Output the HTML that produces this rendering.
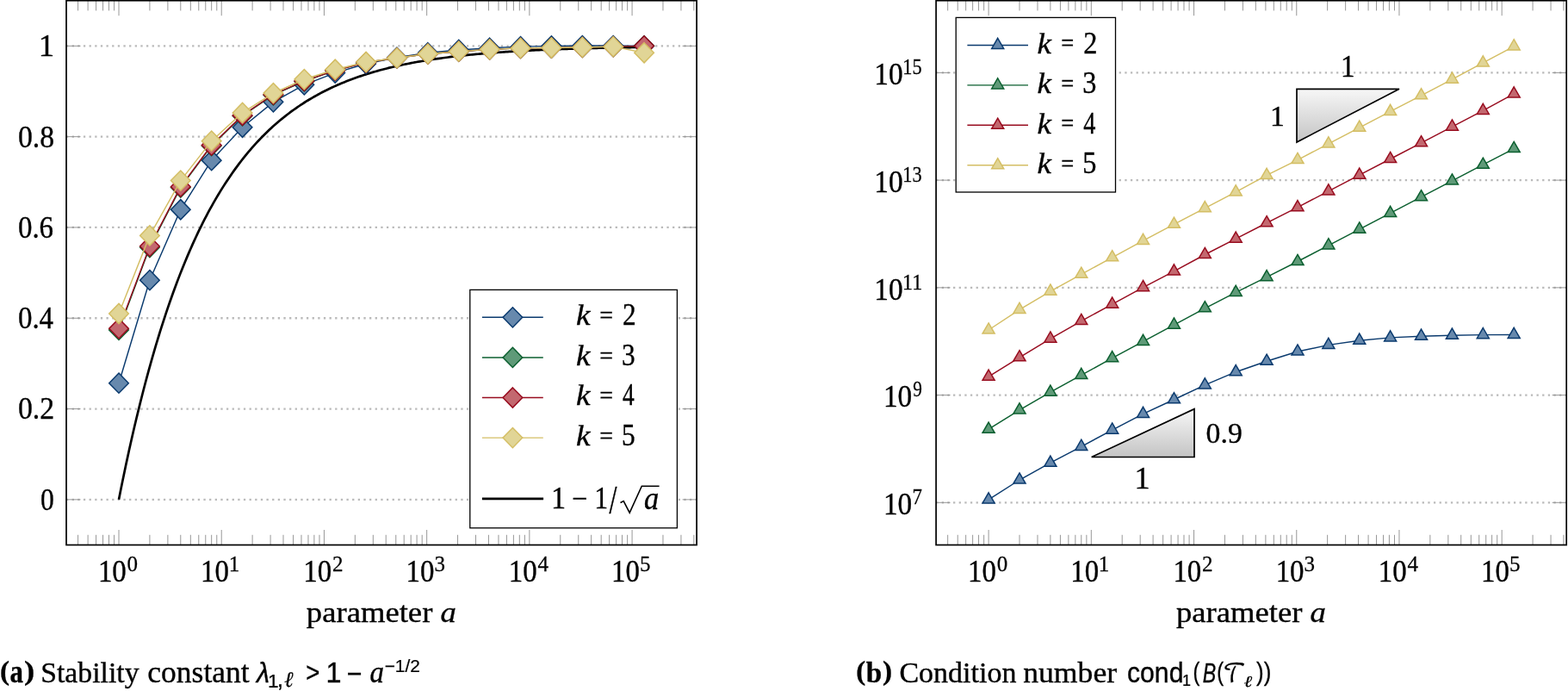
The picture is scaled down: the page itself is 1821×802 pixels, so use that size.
<!DOCTYPE html>
<html><head><meta charset="utf-8"><style>
html,body{margin:0;padding:0;background:#fff;}
svg{display:block;}
.gr{stroke:#bababa;stroke-width:2.3;stroke-dasharray:2.3 4.342;}
.tk{stroke:#8c8c8c;stroke-width:0.9;}
text{fill:#000;stroke:#000;stroke-width:0.35px;}
</style></head><body>
<svg width="1821" height="802" viewBox="0 0 1821 802">
<line x1="77" y1="579.85" x2="809.1" y2="579.85" class="gr"/>
<line x1="77" y1="579.85" x2="93.5" y2="579.85" class="tk"/>
<line x1="809.1" y1="579.85" x2="792.6" y2="579.85" class="tk"/>
<line x1="77" y1="474.55" x2="809.1" y2="474.55" class="gr"/>
<line x1="77" y1="474.55" x2="93.5" y2="474.55" class="tk"/>
<line x1="809.1" y1="474.55" x2="792.6" y2="474.55" class="tk"/>
<line x1="77" y1="369.25" x2="809.1" y2="369.25" class="gr"/>
<line x1="77" y1="369.25" x2="93.5" y2="369.25" class="tk"/>
<line x1="809.1" y1="369.25" x2="792.6" y2="369.25" class="tk"/>
<line x1="77" y1="263.95" x2="809.1" y2="263.95" class="gr"/>
<line x1="77" y1="263.95" x2="93.5" y2="263.95" class="tk"/>
<line x1="809.1" y1="263.95" x2="792.6" y2="263.95" class="tk"/>
<line x1="77" y1="158.65" x2="809.1" y2="158.65" class="gr"/>
<line x1="77" y1="158.65" x2="93.5" y2="158.65" class="tk"/>
<line x1="809.1" y1="158.65" x2="792.6" y2="158.65" class="tk"/>
<line x1="77" y1="53.35" x2="809.1" y2="53.35" class="gr"/>
<line x1="77" y1="53.35" x2="93.5" y2="53.35" class="tk"/>
<line x1="809.1" y1="53.35" x2="792.6" y2="53.35" class="tk"/>
<line x1="90.57" y1="632.5" x2="90.57" y2="620.8" class="tk"/>
<line x1="90.57" y1="0.7" x2="90.57" y2="12.4" class="tk"/>
<line x1="102.12" y1="632.5" x2="102.12" y2="620.8" class="tk"/>
<line x1="102.12" y1="0.7" x2="102.12" y2="12.4" class="tk"/>
<line x1="111.56" y1="632.5" x2="111.56" y2="620.8" class="tk"/>
<line x1="111.56" y1="0.7" x2="111.56" y2="12.4" class="tk"/>
<line x1="119.54" y1="632.5" x2="119.54" y2="620.8" class="tk"/>
<line x1="119.54" y1="0.7" x2="119.54" y2="12.4" class="tk"/>
<line x1="126.46" y1="632.5" x2="126.46" y2="620.8" class="tk"/>
<line x1="126.46" y1="0.7" x2="126.46" y2="12.4" class="tk"/>
<line x1="132.55" y1="632.5" x2="132.55" y2="620.8" class="tk"/>
<line x1="132.55" y1="0.7" x2="132.55" y2="12.4" class="tk"/>
<line x1="138.01" y1="632.5" x2="138.01" y2="615" class="tk"/>
<line x1="138.01" y1="0.7" x2="138.01" y2="18.2" class="tk"/>
<line x1="173.9" y1="632.5" x2="173.9" y2="620.8" class="tk"/>
<line x1="173.9" y1="0.7" x2="173.9" y2="12.4" class="tk"/>
<line x1="194.89" y1="632.5" x2="194.89" y2="620.8" class="tk"/>
<line x1="194.89" y1="0.7" x2="194.89" y2="12.4" class="tk"/>
<line x1="209.78" y1="632.5" x2="209.78" y2="620.8" class="tk"/>
<line x1="209.78" y1="0.7" x2="209.78" y2="12.4" class="tk"/>
<line x1="221.34" y1="632.5" x2="221.34" y2="620.8" class="tk"/>
<line x1="221.34" y1="0.7" x2="221.34" y2="12.4" class="tk"/>
<line x1="230.78" y1="632.5" x2="230.78" y2="620.8" class="tk"/>
<line x1="230.78" y1="0.7" x2="230.78" y2="12.4" class="tk"/>
<line x1="238.76" y1="632.5" x2="238.76" y2="620.8" class="tk"/>
<line x1="238.76" y1="0.7" x2="238.76" y2="12.4" class="tk"/>
<line x1="245.67" y1="632.5" x2="245.67" y2="620.8" class="tk"/>
<line x1="245.67" y1="0.7" x2="245.67" y2="12.4" class="tk"/>
<line x1="251.77" y1="632.5" x2="251.77" y2="620.8" class="tk"/>
<line x1="251.77" y1="0.7" x2="251.77" y2="12.4" class="tk"/>
<line x1="257.22" y1="632.5" x2="257.22" y2="615" class="tk"/>
<line x1="257.22" y1="0.7" x2="257.22" y2="18.2" class="tk"/>
<line x1="293.11" y1="632.5" x2="293.11" y2="620.8" class="tk"/>
<line x1="293.11" y1="0.7" x2="293.11" y2="12.4" class="tk"/>
<line x1="314.1" y1="632.5" x2="314.1" y2="620.8" class="tk"/>
<line x1="314.1" y1="0.7" x2="314.1" y2="12.4" class="tk"/>
<line x1="329" y1="632.5" x2="329" y2="620.8" class="tk"/>
<line x1="329" y1="0.7" x2="329" y2="12.4" class="tk"/>
<line x1="340.55" y1="632.5" x2="340.55" y2="620.8" class="tk"/>
<line x1="340.55" y1="0.7" x2="340.55" y2="12.4" class="tk"/>
<line x1="349.99" y1="632.5" x2="349.99" y2="620.8" class="tk"/>
<line x1="349.99" y1="0.7" x2="349.99" y2="12.4" class="tk"/>
<line x1="357.97" y1="632.5" x2="357.97" y2="620.8" class="tk"/>
<line x1="357.97" y1="0.7" x2="357.97" y2="12.4" class="tk"/>
<line x1="364.89" y1="632.5" x2="364.89" y2="620.8" class="tk"/>
<line x1="364.89" y1="0.7" x2="364.89" y2="12.4" class="tk"/>
<line x1="370.98" y1="632.5" x2="370.98" y2="620.8" class="tk"/>
<line x1="370.98" y1="0.7" x2="370.98" y2="12.4" class="tk"/>
<line x1="376.44" y1="632.5" x2="376.44" y2="615" class="tk"/>
<line x1="376.44" y1="0.7" x2="376.44" y2="18.2" class="tk"/>
<line x1="412.33" y1="632.5" x2="412.33" y2="620.8" class="tk"/>
<line x1="412.33" y1="0.7" x2="412.33" y2="12.4" class="tk"/>
<line x1="433.32" y1="632.5" x2="433.32" y2="620.8" class="tk"/>
<line x1="433.32" y1="0.7" x2="433.32" y2="12.4" class="tk"/>
<line x1="448.21" y1="632.5" x2="448.21" y2="620.8" class="tk"/>
<line x1="448.21" y1="0.7" x2="448.21" y2="12.4" class="tk"/>
<line x1="459.77" y1="632.5" x2="459.77" y2="620.8" class="tk"/>
<line x1="459.77" y1="0.7" x2="459.77" y2="12.4" class="tk"/>
<line x1="469.21" y1="632.5" x2="469.21" y2="620.8" class="tk"/>
<line x1="469.21" y1="0.7" x2="469.21" y2="12.4" class="tk"/>
<line x1="477.19" y1="632.5" x2="477.19" y2="620.8" class="tk"/>
<line x1="477.19" y1="0.7" x2="477.19" y2="12.4" class="tk"/>
<line x1="484.1" y1="632.5" x2="484.1" y2="620.8" class="tk"/>
<line x1="484.1" y1="0.7" x2="484.1" y2="12.4" class="tk"/>
<line x1="490.2" y1="632.5" x2="490.2" y2="620.8" class="tk"/>
<line x1="490.2" y1="0.7" x2="490.2" y2="12.4" class="tk"/>
<line x1="495.65" y1="632.5" x2="495.65" y2="615" class="tk"/>
<line x1="495.65" y1="0.7" x2="495.65" y2="18.2" class="tk"/>
<line x1="531.54" y1="632.5" x2="531.54" y2="620.8" class="tk"/>
<line x1="531.54" y1="0.7" x2="531.54" y2="12.4" class="tk"/>
<line x1="552.53" y1="632.5" x2="552.53" y2="620.8" class="tk"/>
<line x1="552.53" y1="0.7" x2="552.53" y2="12.4" class="tk"/>
<line x1="567.43" y1="632.5" x2="567.43" y2="620.8" class="tk"/>
<line x1="567.43" y1="0.7" x2="567.43" y2="12.4" class="tk"/>
<line x1="578.98" y1="632.5" x2="578.98" y2="620.8" class="tk"/>
<line x1="578.98" y1="0.7" x2="578.98" y2="12.4" class="tk"/>
<line x1="588.42" y1="632.5" x2="588.42" y2="620.8" class="tk"/>
<line x1="588.42" y1="0.7" x2="588.42" y2="12.4" class="tk"/>
<line x1="596.4" y1="632.5" x2="596.4" y2="620.8" class="tk"/>
<line x1="596.4" y1="0.7" x2="596.4" y2="12.4" class="tk"/>
<line x1="603.32" y1="632.5" x2="603.32" y2="620.8" class="tk"/>
<line x1="603.32" y1="0.7" x2="603.32" y2="12.4" class="tk"/>
<line x1="609.41" y1="632.5" x2="609.41" y2="620.8" class="tk"/>
<line x1="609.41" y1="0.7" x2="609.41" y2="12.4" class="tk"/>
<line x1="614.87" y1="632.5" x2="614.87" y2="615" class="tk"/>
<line x1="614.87" y1="0.7" x2="614.87" y2="18.2" class="tk"/>
<line x1="650.76" y1="632.5" x2="650.76" y2="620.8" class="tk"/>
<line x1="650.76" y1="0.7" x2="650.76" y2="12.4" class="tk"/>
<line x1="671.75" y1="632.5" x2="671.75" y2="620.8" class="tk"/>
<line x1="671.75" y1="0.7" x2="671.75" y2="12.4" class="tk"/>
<line x1="686.64" y1="632.5" x2="686.64" y2="620.8" class="tk"/>
<line x1="686.64" y1="0.7" x2="686.64" y2="12.4" class="tk"/>
<line x1="698.2" y1="632.5" x2="698.2" y2="620.8" class="tk"/>
<line x1="698.2" y1="0.7" x2="698.2" y2="12.4" class="tk"/>
<line x1="707.64" y1="632.5" x2="707.64" y2="620.8" class="tk"/>
<line x1="707.64" y1="0.7" x2="707.64" y2="12.4" class="tk"/>
<line x1="715.62" y1="632.5" x2="715.62" y2="620.8" class="tk"/>
<line x1="715.62" y1="0.7" x2="715.62" y2="12.4" class="tk"/>
<line x1="722.53" y1="632.5" x2="722.53" y2="620.8" class="tk"/>
<line x1="722.53" y1="0.7" x2="722.53" y2="12.4" class="tk"/>
<line x1="728.63" y1="632.5" x2="728.63" y2="620.8" class="tk"/>
<line x1="728.63" y1="0.7" x2="728.63" y2="12.4" class="tk"/>
<line x1="734.08" y1="632.5" x2="734.08" y2="615" class="tk"/>
<line x1="734.08" y1="0.7" x2="734.08" y2="18.2" class="tk"/>
<line x1="769.97" y1="632.5" x2="769.97" y2="620.8" class="tk"/>
<line x1="769.97" y1="0.7" x2="769.97" y2="12.4" class="tk"/>
<line x1="790.96" y1="632.5" x2="790.96" y2="620.8" class="tk"/>
<line x1="790.96" y1="0.7" x2="790.96" y2="12.4" class="tk"/>
<line x1="805.86" y1="632.5" x2="805.86" y2="620.8" class="tk"/>
<line x1="805.86" y1="0.7" x2="805.86" y2="12.4" class="tk"/>
<polyline points="138.01,579.85 140.04,569.61 142.08,559.57 144.11,549.73 146.14,540.07 148.18,530.61 150.21,521.33 152.24,512.22 154.28,503.3 156.31,494.55 158.34,485.97 160.38,477.56 162.41,469.31 164.45,461.22 166.48,453.29 168.51,445.51 170.55,437.88 172.58,430.4 174.61,423.07 176.65,415.88 178.68,408.83 180.71,401.92 182.75,395.14 184.78,388.49 186.82,381.97 188.85,375.58 190.88,369.32 192.92,363.17 194.95,357.15 196.98,351.24 199.02,345.44 201.05,339.76 203.08,334.19 205.12,328.73 207.15,323.38 209.18,318.12 211.22,312.98 213.25,307.93 215.29,302.98 217.32,298.12 219.35,293.36 221.39,288.69 223.42,284.12 225.45,279.63 227.49,275.23 229.52,270.91 231.55,266.68 233.59,262.53 235.62,258.47 237.66,254.48 239.69,250.56 241.72,246.73 243.76,242.97 245.79,239.28 247.82,235.67 249.86,232.12 251.89,228.64 253.92,225.23 255.96,221.89 257.99,218.61 260.03,215.4 262.06,212.25 264.09,209.16 266.13,206.13 268.16,203.16 270.19,200.24 272.23,197.39 274.26,194.59 276.29,191.84 278.33,189.15 280.36,186.5 282.4,183.91 284.43,181.38 286.46,178.89 288.5,176.44 290.53,174.05 292.56,171.7 294.6,169.4 296.63,167.14 298.66,164.93 300.7,162.76 302.73,160.63 304.76,158.55 306.8,156.5 308.83,154.5 310.87,152.53 312.9,150.6 314.93,148.71 316.97,146.85 319,145.04 321.03,143.25 323.07,141.5 325.1,139.79 327.13,138.11 329.17,136.46 331.2,134.84 333.24,133.26 335.27,131.71 337.3,130.18 339.34,128.69 341.37,127.22 343.4,125.79 345.44,124.38 347.47,123 349.5,121.64 351.54,120.31 353.57,119.01 355.61,117.73 357.64,116.48 359.67,115.25 361.71,114.05 363.74,112.87 365.77,111.71 367.81,110.58 369.84,109.46 371.87,108.37 373.91,107.3 375.94,106.25 377.97,105.22 380.01,104.22 382.04,103.23 384.08,102.26 386.11,101.31 388.14,100.37 390.18,99.46 392.21,98.56 394.24,97.68 396.28,96.82 398.31,95.97 400.34,95.15 402.38,94.33 404.41,93.54 406.45,92.75 408.48,91.99 410.51,91.24 412.55,90.5 414.58,89.78 416.61,89.07 418.65,88.37 420.68,87.69 422.71,87.03 424.75,86.37 426.78,85.73 428.82,85.1 430.85,84.48 432.88,83.88 434.92,83.28 436.95,82.7 438.98,82.13 441.02,81.57 443.05,81.02 445.08,80.48 447.12,79.95 449.15,79.44 451.19,78.93 453.22,78.43 455.25,77.94 457.29,77.47 459.32,77 461.35,76.54 463.39,76.09 465.42,75.64 467.45,75.21 469.49,74.79 471.52,74.37 473.55,73.96 475.59,73.56 477.62,73.17 479.66,72.78 481.69,72.4 483.72,72.03 485.76,71.67 487.79,71.31 489.82,70.96 491.86,70.62 493.89,70.29 495.92,69.96 497.96,69.63 499.99,69.32 502.03,69.01 504.06,68.7 506.09,68.4 508.13,68.11 510.16,67.82 512.19,67.54 514.23,67.27 516.26,66.99 518.29,66.73 520.33,66.47 522.36,66.21 524.4,65.96 526.43,65.72 528.46,65.48 530.5,65.24 532.53,65.01 534.56,64.78 536.6,64.56 538.63,64.34 540.66,64.13 542.7,63.92 544.73,63.71 546.76,63.51 548.8,63.32 550.83,63.12 552.87,62.93 554.9,62.75 556.93,62.56 558.97,62.38 561,62.21 563.03,62.04 565.07,61.87 567.1,61.7 569.13,61.54 571.17,61.38 573.2,61.22 575.24,61.07 577.27,60.92 579.3,60.77 581.34,60.63 583.37,60.49 585.4,60.35 587.44,60.21 589.47,60.08 591.5,59.95 593.54,59.82 595.57,59.69 597.61,59.57 599.64,59.45 601.67,59.33 603.71,59.21 605.74,59.1 607.77,58.99 609.81,58.88 611.84,58.77 613.87,58.67 615.91,58.56 617.94,58.46 619.98,58.36 622.01,58.26 624.04,58.17 626.08,58.07 628.11,57.98 630.14,57.89 632.18,57.8 634.21,57.72 636.24,57.63 638.28,57.55 640.31,57.47 642.34,57.39 644.38,57.31 646.41,57.23 648.45,57.16 650.48,57.08 652.51,57.01 654.55,56.94 656.58,56.87 658.61,56.8 660.65,56.73 662.68,56.67 664.71,56.6 666.75,56.54 668.78,56.48 670.82,56.42 672.85,56.36 674.88,56.3 676.92,56.24 678.95,56.19 680.98,56.13 683.02,56.08 685.05,56.02 687.08,55.97 689.12,55.92 691.15,55.87 693.19,55.82 695.22,55.77 697.25,55.73 699.29,55.68 701.32,55.63 703.35,55.59 705.39,55.55 707.42,55.5 709.45,55.46 711.49,55.42 713.52,55.38 715.56,55.34 717.59,55.3 719.62,55.26 721.66,55.23 723.69,55.19 725.72,55.15 727.76,55.12 729.79,55.09 731.82,55.05 733.86,55.02 735.89,54.99 737.92,54.95 739.96,54.92 741.99,54.89 744.03,54.86 746.06,54.83 748.09,54.8" fill="none" stroke="#000" stroke-width="2.7"/>
<polyline points="138.01,444.7 173.9,325.18 209.78,243.21 245.67,186.19 281.56,147.75 317.44,118.32 353.33,98.37 389.22,84.57 425.11,74.04 460.99,66.78 496.88,61.25 532.77,57.93 568.66,55.77 604.54,54.14 640.43,53.35 676.32,53.09 712.21,53.09 748.09,53.35" fill="none" stroke="#0a3a6e" stroke-width="1.45"/>
<path d="M138.01 433.1L149.31 444.7L138.01 456.3L126.71 444.7Z" fill="#6789ad" stroke="#0a3a6e" stroke-width="1.5"/>
<path d="M173.9 313.58L185.2 325.18L173.9 336.78L162.6 325.18Z" fill="#6789ad" stroke="#0a3a6e" stroke-width="1.5"/>
<path d="M209.78 231.61L221.08 243.21L209.78 254.81L198.48 243.21Z" fill="#6789ad" stroke="#0a3a6e" stroke-width="1.5"/>
<path d="M245.67 174.59L256.97 186.19L245.67 197.79L234.37 186.19Z" fill="#6789ad" stroke="#0a3a6e" stroke-width="1.5"/>
<path d="M281.56 136.15L292.86 147.75L281.56 159.35L270.26 147.75Z" fill="#6789ad" stroke="#0a3a6e" stroke-width="1.5"/>
<path d="M317.44 106.72L328.74 118.32L317.44 129.92L306.14 118.32Z" fill="#6789ad" stroke="#0a3a6e" stroke-width="1.5"/>
<path d="M353.33 86.77L364.63 98.37L353.33 109.97L342.03 98.37Z" fill="#6789ad" stroke="#0a3a6e" stroke-width="1.5"/>
<path d="M389.22 72.97L400.52 84.57L389.22 96.17L377.92 84.57Z" fill="#6789ad" stroke="#0a3a6e" stroke-width="1.5"/>
<path d="M425.11 62.44L436.41 74.04L425.11 85.64L413.81 74.04Z" fill="#6789ad" stroke="#0a3a6e" stroke-width="1.5"/>
<path d="M460.99 55.18L472.29 66.78L460.99 78.38L449.69 66.78Z" fill="#6789ad" stroke="#0a3a6e" stroke-width="1.5"/>
<path d="M496.88 49.65L508.18 61.25L496.88 72.85L485.58 61.25Z" fill="#6789ad" stroke="#0a3a6e" stroke-width="1.5"/>
<path d="M532.77 46.33L544.07 57.93L532.77 69.53L521.47 57.93Z" fill="#6789ad" stroke="#0a3a6e" stroke-width="1.5"/>
<path d="M568.66 44.17L579.96 55.77L568.66 67.37L557.36 55.77Z" fill="#6789ad" stroke="#0a3a6e" stroke-width="1.5"/>
<path d="M604.54 42.54L615.84 54.14L604.54 65.74L593.24 54.14Z" fill="#6789ad" stroke="#0a3a6e" stroke-width="1.5"/>
<path d="M640.43 41.75L651.73 53.35L640.43 64.95L629.13 53.35Z" fill="#6789ad" stroke="#0a3a6e" stroke-width="1.5"/>
<path d="M676.32 41.49L687.62 53.09L676.32 64.69L665.02 53.09Z" fill="#6789ad" stroke="#0a3a6e" stroke-width="1.5"/>
<path d="M712.21 41.49L723.51 53.09L712.21 64.69L700.91 53.09Z" fill="#6789ad" stroke="#0a3a6e" stroke-width="1.5"/>
<path d="M748.09 41.75L759.39 53.35L748.09 64.95L736.79 53.35Z" fill="#6789ad" stroke="#0a3a6e" stroke-width="1.5"/>
<polyline points="138.01,382.94 173.9,287.12 209.78,217.62 245.67,169.18 281.56,134.43 317.44,110.21 353.33,94.42 389.22,81.78 425.11,72.57 460.99,67.3 496.88,62.56 532.77,59.67 568.66,57.35 604.54,55.88 640.43,55.46 676.32,54.93 712.21,54.14 748.09,53.35" fill="none" stroke="#0b5f2f" stroke-width="1.45"/>
<path d="M138.01 371.34L149.31 382.94L138.01 394.54L126.71 382.94Z" fill="#5f9a78" stroke="#0b5f2f" stroke-width="1.5"/>
<path d="M173.9 275.52L185.2 287.12L173.9 298.72L162.6 287.12Z" fill="#5f9a78" stroke="#0b5f2f" stroke-width="1.5"/>
<path d="M209.78 206.02L221.08 217.62L209.78 229.22L198.48 217.62Z" fill="#5f9a78" stroke="#0b5f2f" stroke-width="1.5"/>
<path d="M245.67 157.58L256.97 169.18L245.67 180.78L234.37 169.18Z" fill="#5f9a78" stroke="#0b5f2f" stroke-width="1.5"/>
<path d="M281.56 122.83L292.86 134.43L281.56 146.03L270.26 134.43Z" fill="#5f9a78" stroke="#0b5f2f" stroke-width="1.5"/>
<path d="M317.44 98.61L328.74 110.21L317.44 121.81L306.14 110.21Z" fill="#5f9a78" stroke="#0b5f2f" stroke-width="1.5"/>
<path d="M353.33 82.82L364.63 94.42L353.33 106.02L342.03 94.42Z" fill="#5f9a78" stroke="#0b5f2f" stroke-width="1.5"/>
<path d="M389.22 70.18L400.52 81.78L389.22 93.38L377.92 81.78Z" fill="#5f9a78" stroke="#0b5f2f" stroke-width="1.5"/>
<path d="M425.11 60.97L436.41 72.57L425.11 84.17L413.81 72.57Z" fill="#5f9a78" stroke="#0b5f2f" stroke-width="1.5"/>
<path d="M460.99 55.7L472.29 67.3L460.99 78.9L449.69 67.3Z" fill="#5f9a78" stroke="#0b5f2f" stroke-width="1.5"/>
<path d="M496.88 50.96L508.18 62.56L496.88 74.16L485.58 62.56Z" fill="#5f9a78" stroke="#0b5f2f" stroke-width="1.5"/>
<path d="M532.77 48.07L544.07 59.67L532.77 71.27L521.47 59.67Z" fill="#5f9a78" stroke="#0b5f2f" stroke-width="1.5"/>
<path d="M568.66 45.75L579.96 57.35L568.66 68.95L557.36 57.35Z" fill="#5f9a78" stroke="#0b5f2f" stroke-width="1.5"/>
<path d="M604.54 44.28L615.84 55.88L604.54 67.48L593.24 55.88Z" fill="#5f9a78" stroke="#0b5f2f" stroke-width="1.5"/>
<path d="M640.43 43.86L651.73 55.46L640.43 67.06L629.13 55.46Z" fill="#5f9a78" stroke="#0b5f2f" stroke-width="1.5"/>
<path d="M676.32 43.33L687.62 54.93L676.32 66.53L665.02 54.93Z" fill="#5f9a78" stroke="#0b5f2f" stroke-width="1.5"/>
<path d="M712.21 42.54L723.51 54.14L712.21 65.74L700.91 54.14Z" fill="#5f9a78" stroke="#0b5f2f" stroke-width="1.5"/>
<path d="M748.09 41.75L759.39 53.35L748.09 64.95L736.79 53.35Z" fill="#5f9a78" stroke="#0b5f2f" stroke-width="1.5"/>
<polyline points="138.01,381.36 173.9,285.8 209.78,216.67 245.67,168.55 281.56,133.9 317.44,109.69 353.33,93.89 389.22,81.78 425.11,72.57 460.99,67.3 496.88,62.56 532.77,59.67 568.66,57.35 604.54,55.88 640.43,55.46 676.32,54.93 712.21,54.14 748.09,53.35" fill="none" stroke="#980c1f" stroke-width="1.45"/>
<path d="M138.01 369.76L149.31 381.36L138.01 392.96L126.71 381.36Z" fill="#c3686f" stroke="#980c1f" stroke-width="1.5"/>
<path d="M173.9 274.2L185.2 285.8L173.9 297.4L162.6 285.8Z" fill="#c3686f" stroke="#980c1f" stroke-width="1.5"/>
<path d="M209.78 205.07L221.08 216.67L209.78 228.27L198.48 216.67Z" fill="#c3686f" stroke="#980c1f" stroke-width="1.5"/>
<path d="M245.67 156.95L256.97 168.55L245.67 180.15L234.37 168.55Z" fill="#c3686f" stroke="#980c1f" stroke-width="1.5"/>
<path d="M281.56 122.3L292.86 133.9L281.56 145.5L270.26 133.9Z" fill="#c3686f" stroke="#980c1f" stroke-width="1.5"/>
<path d="M317.44 98.09L328.74 109.69L317.44 121.29L306.14 109.69Z" fill="#c3686f" stroke="#980c1f" stroke-width="1.5"/>
<path d="M353.33 82.29L364.63 93.89L353.33 105.49L342.03 93.89Z" fill="#c3686f" stroke="#980c1f" stroke-width="1.5"/>
<path d="M389.22 70.18L400.52 81.78L389.22 93.38L377.92 81.78Z" fill="#c3686f" stroke="#980c1f" stroke-width="1.5"/>
<path d="M425.11 60.97L436.41 72.57L425.11 84.17L413.81 72.57Z" fill="#c3686f" stroke="#980c1f" stroke-width="1.5"/>
<path d="M460.99 55.7L472.29 67.3L460.99 78.9L449.69 67.3Z" fill="#c3686f" stroke="#980c1f" stroke-width="1.5"/>
<path d="M496.88 50.96L508.18 62.56L496.88 74.16L485.58 62.56Z" fill="#c3686f" stroke="#980c1f" stroke-width="1.5"/>
<path d="M532.77 48.07L544.07 59.67L532.77 71.27L521.47 59.67Z" fill="#c3686f" stroke="#980c1f" stroke-width="1.5"/>
<path d="M568.66 45.75L579.96 57.35L568.66 68.95L557.36 57.35Z" fill="#c3686f" stroke="#980c1f" stroke-width="1.5"/>
<path d="M604.54 44.28L615.84 55.88L604.54 67.48L593.24 55.88Z" fill="#c3686f" stroke="#980c1f" stroke-width="1.5"/>
<path d="M640.43 43.86L651.73 55.46L640.43 67.06L629.13 55.46Z" fill="#c3686f" stroke="#980c1f" stroke-width="1.5"/>
<path d="M676.32 43.33L687.62 54.93L676.32 66.53L665.02 54.93Z" fill="#c3686f" stroke="#980c1f" stroke-width="1.5"/>
<path d="M712.21 42.54L723.51 54.14L712.21 65.74L700.91 54.14Z" fill="#c3686f" stroke="#980c1f" stroke-width="1.5"/>
<path d="M748.09 41.75L759.39 53.35L748.09 64.95L736.79 53.35Z" fill="#c3686f" stroke="#980c1f" stroke-width="1.5"/>
<polyline points="138.01,363.99 173.9,273.43 209.78,209.56 245.67,163.65 281.56,130.9 317.44,108.11 353.33,92.05 389.22,80.73 425.11,71.99 460.99,67.3 496.88,62.56 532.77,59.67 568.66,57.35 604.54,55.88 640.43,55.46 676.32,54.93 712.21,54.14 748.09,61.25" fill="none" stroke="#d4be64" stroke-width="1.45"/>
<path d="M138.01 352.38L149.31 363.99L138.01 375.59L126.71 363.99Z" fill="#e1d596" stroke="#d4be64" stroke-width="1.5"/>
<path d="M173.9 261.83L185.2 273.43L173.9 285.03L162.6 273.43Z" fill="#e1d596" stroke="#d4be64" stroke-width="1.5"/>
<path d="M209.78 197.96L221.08 209.56L209.78 221.16L198.48 209.56Z" fill="#e1d596" stroke="#d4be64" stroke-width="1.5"/>
<path d="M245.67 152.05L256.97 163.65L245.67 175.25L234.37 163.65Z" fill="#e1d596" stroke="#d4be64" stroke-width="1.5"/>
<path d="M281.56 119.3L292.86 130.9L281.56 142.5L270.26 130.9Z" fill="#e1d596" stroke="#d4be64" stroke-width="1.5"/>
<path d="M317.44 96.51L328.74 108.11L317.44 119.71L306.14 108.11Z" fill="#e1d596" stroke="#d4be64" stroke-width="1.5"/>
<path d="M353.33 80.45L364.63 92.05L353.33 103.65L342.03 92.05Z" fill="#e1d596" stroke="#d4be64" stroke-width="1.5"/>
<path d="M389.22 69.13L400.52 80.73L389.22 92.33L377.92 80.73Z" fill="#e1d596" stroke="#d4be64" stroke-width="1.5"/>
<path d="M425.11 60.39L436.41 71.99L425.11 83.59L413.81 71.99Z" fill="#e1d596" stroke="#d4be64" stroke-width="1.5"/>
<path d="M460.99 55.7L472.29 67.3L460.99 78.9L449.69 67.3Z" fill="#e1d596" stroke="#d4be64" stroke-width="1.5"/>
<path d="M496.88 50.96L508.18 62.56L496.88 74.16L485.58 62.56Z" fill="#e1d596" stroke="#d4be64" stroke-width="1.5"/>
<path d="M532.77 48.07L544.07 59.67L532.77 71.27L521.47 59.67Z" fill="#e1d596" stroke="#d4be64" stroke-width="1.5"/>
<path d="M568.66 45.75L579.96 57.35L568.66 68.95L557.36 57.35Z" fill="#e1d596" stroke="#d4be64" stroke-width="1.5"/>
<path d="M604.54 44.28L615.84 55.88L604.54 67.48L593.24 55.88Z" fill="#e1d596" stroke="#d4be64" stroke-width="1.5"/>
<path d="M640.43 43.86L651.73 55.46L640.43 67.06L629.13 55.46Z" fill="#e1d596" stroke="#d4be64" stroke-width="1.5"/>
<path d="M676.32 43.33L687.62 54.93L676.32 66.53L665.02 54.93Z" fill="#e1d596" stroke="#d4be64" stroke-width="1.5"/>
<path d="M712.21 42.54L723.51 54.14L712.21 65.74L700.91 54.14Z" fill="#e1d596" stroke="#d4be64" stroke-width="1.5"/>
<path d="M748.09 49.65L759.39 61.25L748.09 72.85L736.79 61.25Z" fill="#e1d596" stroke="#d4be64" stroke-width="1.5"/>
<rect x="77" y="0.7" width="732.1" height="631.8" fill="none" stroke="#000" stroke-width="1.7"/>
<rect x="545.8" y="336.4" width="240.6" height="276.4" fill="#fff" stroke="#000" stroke-width="1.3"/>
<line x1="559.9" y1="368.3" x2="630.8" y2="368.3" stroke="#0a3a6e" stroke-width="1.45"/>
<path d="M595.4 356.7L606.7 368.3L595.4 379.9L584.1 368.3Z" fill="#6789ad" stroke="#0a3a6e" stroke-width="1.5"/>
<line x1="559.9" y1="414.9" x2="630.8" y2="414.9" stroke="#0b5f2f" stroke-width="1.45"/>
<path d="M595.4 403.3L606.7 414.9L595.4 426.5L584.1 414.9Z" fill="#5f9a78" stroke="#0b5f2f" stroke-width="1.5"/>
<line x1="559.9" y1="461.5" x2="630.8" y2="461.5" stroke="#980c1f" stroke-width="1.45"/>
<path d="M595.4 449.9L606.7 461.5L595.4 473.1L584.1 461.5Z" fill="#c3686f" stroke="#980c1f" stroke-width="1.5"/>
<line x1="559.9" y1="508.1" x2="630.8" y2="508.1" stroke="#d4be64" stroke-width="1.45"/>
<path d="M595.4 496.5L606.7 508.1L595.4 519.7L584.1 508.1Z" fill="#e1d596" stroke="#d4be64" stroke-width="1.5"/>
<line x1="559.9" y1="578.9" x2="631.1" y2="578.9" stroke="#000" stroke-width="2.7"/>
<path d="M720.5 583.5L724.2 581.6L731.2 595.2L745.3 564.2L765.6 564.2" fill="none" stroke="#000" stroke-width="1.6" stroke-linejoin="miter"/>
<line x1="1087.1" y1="583.3" x2="1819.2" y2="583.3" class="gr"/>
<line x1="1087.1" y1="583.3" x2="1103.6" y2="583.3" class="tk"/>
<line x1="1819.2" y1="583.3" x2="1802.7" y2="583.3" class="tk"/>
<line x1="1087.1" y1="458.57" x2="1819.2" y2="458.57" class="gr"/>
<line x1="1087.1" y1="458.57" x2="1103.6" y2="458.57" class="tk"/>
<line x1="1819.2" y1="458.57" x2="1802.7" y2="458.57" class="tk"/>
<line x1="1087.1" y1="333.85" x2="1819.2" y2="333.85" class="gr"/>
<line x1="1087.1" y1="333.85" x2="1103.6" y2="333.85" class="tk"/>
<line x1="1819.2" y1="333.85" x2="1802.7" y2="333.85" class="tk"/>
<line x1="1087.1" y1="209.12" x2="1819.2" y2="209.12" class="gr"/>
<line x1="1087.1" y1="209.12" x2="1103.6" y2="209.12" class="tk"/>
<line x1="1819.2" y1="209.12" x2="1802.7" y2="209.12" class="tk"/>
<line x1="1087.1" y1="84.4" x2="1819.2" y2="84.4" class="gr"/>
<line x1="1087.1" y1="84.4" x2="1103.6" y2="84.4" class="tk"/>
<line x1="1819.2" y1="84.4" x2="1802.7" y2="84.4" class="tk"/>
<line x1="1100.67" y1="632.5" x2="1100.67" y2="620.8" class="tk"/>
<line x1="1100.67" y1="0.7" x2="1100.67" y2="12.4" class="tk"/>
<line x1="1112.22" y1="632.5" x2="1112.22" y2="620.8" class="tk"/>
<line x1="1112.22" y1="0.7" x2="1112.22" y2="12.4" class="tk"/>
<line x1="1121.66" y1="632.5" x2="1121.66" y2="620.8" class="tk"/>
<line x1="1121.66" y1="0.7" x2="1121.66" y2="12.4" class="tk"/>
<line x1="1129.64" y1="632.5" x2="1129.64" y2="620.8" class="tk"/>
<line x1="1129.64" y1="0.7" x2="1129.64" y2="12.4" class="tk"/>
<line x1="1136.56" y1="632.5" x2="1136.56" y2="620.8" class="tk"/>
<line x1="1136.56" y1="0.7" x2="1136.56" y2="12.4" class="tk"/>
<line x1="1142.65" y1="632.5" x2="1142.65" y2="620.8" class="tk"/>
<line x1="1142.65" y1="0.7" x2="1142.65" y2="12.4" class="tk"/>
<line x1="1148.11" y1="632.5" x2="1148.11" y2="615" class="tk"/>
<line x1="1148.11" y1="0.7" x2="1148.11" y2="18.2" class="tk"/>
<line x1="1184" y1="632.5" x2="1184" y2="620.8" class="tk"/>
<line x1="1184" y1="0.7" x2="1184" y2="12.4" class="tk"/>
<line x1="1204.99" y1="632.5" x2="1204.99" y2="620.8" class="tk"/>
<line x1="1204.99" y1="0.7" x2="1204.99" y2="12.4" class="tk"/>
<line x1="1219.88" y1="632.5" x2="1219.88" y2="620.8" class="tk"/>
<line x1="1219.88" y1="0.7" x2="1219.88" y2="12.4" class="tk"/>
<line x1="1231.44" y1="632.5" x2="1231.44" y2="620.8" class="tk"/>
<line x1="1231.44" y1="0.7" x2="1231.44" y2="12.4" class="tk"/>
<line x1="1240.88" y1="632.5" x2="1240.88" y2="620.8" class="tk"/>
<line x1="1240.88" y1="0.7" x2="1240.88" y2="12.4" class="tk"/>
<line x1="1248.86" y1="632.5" x2="1248.86" y2="620.8" class="tk"/>
<line x1="1248.86" y1="0.7" x2="1248.86" y2="12.4" class="tk"/>
<line x1="1255.77" y1="632.5" x2="1255.77" y2="620.8" class="tk"/>
<line x1="1255.77" y1="0.7" x2="1255.77" y2="12.4" class="tk"/>
<line x1="1261.87" y1="632.5" x2="1261.87" y2="620.8" class="tk"/>
<line x1="1261.87" y1="0.7" x2="1261.87" y2="12.4" class="tk"/>
<line x1="1267.32" y1="632.5" x2="1267.32" y2="615" class="tk"/>
<line x1="1267.32" y1="0.7" x2="1267.32" y2="18.2" class="tk"/>
<line x1="1303.21" y1="632.5" x2="1303.21" y2="620.8" class="tk"/>
<line x1="1303.21" y1="0.7" x2="1303.21" y2="12.4" class="tk"/>
<line x1="1324.2" y1="632.5" x2="1324.2" y2="620.8" class="tk"/>
<line x1="1324.2" y1="0.7" x2="1324.2" y2="12.4" class="tk"/>
<line x1="1339.1" y1="632.5" x2="1339.1" y2="620.8" class="tk"/>
<line x1="1339.1" y1="0.7" x2="1339.1" y2="12.4" class="tk"/>
<line x1="1350.65" y1="632.5" x2="1350.65" y2="620.8" class="tk"/>
<line x1="1350.65" y1="0.7" x2="1350.65" y2="12.4" class="tk"/>
<line x1="1360.09" y1="632.5" x2="1360.09" y2="620.8" class="tk"/>
<line x1="1360.09" y1="0.7" x2="1360.09" y2="12.4" class="tk"/>
<line x1="1368.07" y1="632.5" x2="1368.07" y2="620.8" class="tk"/>
<line x1="1368.07" y1="0.7" x2="1368.07" y2="12.4" class="tk"/>
<line x1="1374.99" y1="632.5" x2="1374.99" y2="620.8" class="tk"/>
<line x1="1374.99" y1="0.7" x2="1374.99" y2="12.4" class="tk"/>
<line x1="1381.08" y1="632.5" x2="1381.08" y2="620.8" class="tk"/>
<line x1="1381.08" y1="0.7" x2="1381.08" y2="12.4" class="tk"/>
<line x1="1386.54" y1="632.5" x2="1386.54" y2="615" class="tk"/>
<line x1="1386.54" y1="0.7" x2="1386.54" y2="18.2" class="tk"/>
<line x1="1422.43" y1="632.5" x2="1422.43" y2="620.8" class="tk"/>
<line x1="1422.43" y1="0.7" x2="1422.43" y2="12.4" class="tk"/>
<line x1="1443.42" y1="632.5" x2="1443.42" y2="620.8" class="tk"/>
<line x1="1443.42" y1="0.7" x2="1443.42" y2="12.4" class="tk"/>
<line x1="1458.31" y1="632.5" x2="1458.31" y2="620.8" class="tk"/>
<line x1="1458.31" y1="0.7" x2="1458.31" y2="12.4" class="tk"/>
<line x1="1469.87" y1="632.5" x2="1469.87" y2="620.8" class="tk"/>
<line x1="1469.87" y1="0.7" x2="1469.87" y2="12.4" class="tk"/>
<line x1="1479.31" y1="632.5" x2="1479.31" y2="620.8" class="tk"/>
<line x1="1479.31" y1="0.7" x2="1479.31" y2="12.4" class="tk"/>
<line x1="1487.29" y1="632.5" x2="1487.29" y2="620.8" class="tk"/>
<line x1="1487.29" y1="0.7" x2="1487.29" y2="12.4" class="tk"/>
<line x1="1494.2" y1="632.5" x2="1494.2" y2="620.8" class="tk"/>
<line x1="1494.2" y1="0.7" x2="1494.2" y2="12.4" class="tk"/>
<line x1="1500.3" y1="632.5" x2="1500.3" y2="620.8" class="tk"/>
<line x1="1500.3" y1="0.7" x2="1500.3" y2="12.4" class="tk"/>
<line x1="1505.75" y1="632.5" x2="1505.75" y2="615" class="tk"/>
<line x1="1505.75" y1="0.7" x2="1505.75" y2="18.2" class="tk"/>
<line x1="1541.64" y1="632.5" x2="1541.64" y2="620.8" class="tk"/>
<line x1="1541.64" y1="0.7" x2="1541.64" y2="12.4" class="tk"/>
<line x1="1562.63" y1="632.5" x2="1562.63" y2="620.8" class="tk"/>
<line x1="1562.63" y1="0.7" x2="1562.63" y2="12.4" class="tk"/>
<line x1="1577.53" y1="632.5" x2="1577.53" y2="620.8" class="tk"/>
<line x1="1577.53" y1="0.7" x2="1577.53" y2="12.4" class="tk"/>
<line x1="1589.08" y1="632.5" x2="1589.08" y2="620.8" class="tk"/>
<line x1="1589.08" y1="0.7" x2="1589.08" y2="12.4" class="tk"/>
<line x1="1598.52" y1="632.5" x2="1598.52" y2="620.8" class="tk"/>
<line x1="1598.52" y1="0.7" x2="1598.52" y2="12.4" class="tk"/>
<line x1="1606.5" y1="632.5" x2="1606.5" y2="620.8" class="tk"/>
<line x1="1606.5" y1="0.7" x2="1606.5" y2="12.4" class="tk"/>
<line x1="1613.42" y1="632.5" x2="1613.42" y2="620.8" class="tk"/>
<line x1="1613.42" y1="0.7" x2="1613.42" y2="12.4" class="tk"/>
<line x1="1619.51" y1="632.5" x2="1619.51" y2="620.8" class="tk"/>
<line x1="1619.51" y1="0.7" x2="1619.51" y2="12.4" class="tk"/>
<line x1="1624.97" y1="632.5" x2="1624.97" y2="615" class="tk"/>
<line x1="1624.97" y1="0.7" x2="1624.97" y2="18.2" class="tk"/>
<line x1="1660.86" y1="632.5" x2="1660.86" y2="620.8" class="tk"/>
<line x1="1660.86" y1="0.7" x2="1660.86" y2="12.4" class="tk"/>
<line x1="1681.85" y1="632.5" x2="1681.85" y2="620.8" class="tk"/>
<line x1="1681.85" y1="0.7" x2="1681.85" y2="12.4" class="tk"/>
<line x1="1696.74" y1="632.5" x2="1696.74" y2="620.8" class="tk"/>
<line x1="1696.74" y1="0.7" x2="1696.74" y2="12.4" class="tk"/>
<line x1="1708.3" y1="632.5" x2="1708.3" y2="620.8" class="tk"/>
<line x1="1708.3" y1="0.7" x2="1708.3" y2="12.4" class="tk"/>
<line x1="1717.74" y1="632.5" x2="1717.74" y2="620.8" class="tk"/>
<line x1="1717.74" y1="0.7" x2="1717.74" y2="12.4" class="tk"/>
<line x1="1725.72" y1="632.5" x2="1725.72" y2="620.8" class="tk"/>
<line x1="1725.72" y1="0.7" x2="1725.72" y2="12.4" class="tk"/>
<line x1="1732.63" y1="632.5" x2="1732.63" y2="620.8" class="tk"/>
<line x1="1732.63" y1="0.7" x2="1732.63" y2="12.4" class="tk"/>
<line x1="1738.73" y1="632.5" x2="1738.73" y2="620.8" class="tk"/>
<line x1="1738.73" y1="0.7" x2="1738.73" y2="12.4" class="tk"/>
<line x1="1744.18" y1="632.5" x2="1744.18" y2="615" class="tk"/>
<line x1="1744.18" y1="0.7" x2="1744.18" y2="18.2" class="tk"/>
<line x1="1780.07" y1="632.5" x2="1780.07" y2="620.8" class="tk"/>
<line x1="1780.07" y1="0.7" x2="1780.07" y2="12.4" class="tk"/>
<line x1="1801.06" y1="632.5" x2="1801.06" y2="620.8" class="tk"/>
<line x1="1801.06" y1="0.7" x2="1801.06" y2="12.4" class="tk"/>
<line x1="1815.96" y1="632.5" x2="1815.96" y2="620.8" class="tk"/>
<line x1="1815.96" y1="0.7" x2="1815.96" y2="12.4" class="tk"/>
<polyline points="1148.11,579.86 1184,557 1219.88,537.2 1255.77,518.33 1291.66,499.08 1327.54,480.4 1363.43,463.77 1399.32,446.89 1435.21,431.7 1471.09,419.3 1506.98,408.03 1542.87,400.37 1578.76,395.2 1614.64,391.9 1650.53,390.22 1686.42,389.22 1722.31,388.6 1758.19,388.41" fill="none" stroke="#0a3a6e" stroke-width="1.45"/>
<path d="M1148.11 571.76L1155.12 583.91L1141.09 583.91Z" fill="#6789ad" stroke="#0a3a6e" stroke-width="1.5"/>
<path d="M1184 548.9L1191.01 561.05L1176.98 561.05Z" fill="#6789ad" stroke="#0a3a6e" stroke-width="1.5"/>
<path d="M1219.88 529.1L1226.9 541.25L1212.87 541.25Z" fill="#6789ad" stroke="#0a3a6e" stroke-width="1.5"/>
<path d="M1255.77 510.23L1262.79 522.38L1248.76 522.38Z" fill="#6789ad" stroke="#0a3a6e" stroke-width="1.5"/>
<path d="M1291.66 490.98L1298.67 503.13L1284.64 503.13Z" fill="#6789ad" stroke="#0a3a6e" stroke-width="1.5"/>
<path d="M1327.54 472.3L1334.56 484.45L1320.53 484.45Z" fill="#6789ad" stroke="#0a3a6e" stroke-width="1.5"/>
<path d="M1363.43 455.67L1370.45 467.82L1356.42 467.82Z" fill="#6789ad" stroke="#0a3a6e" stroke-width="1.5"/>
<path d="M1399.32 438.79L1406.33 450.94L1392.3 450.94Z" fill="#6789ad" stroke="#0a3a6e" stroke-width="1.5"/>
<path d="M1435.21 423.6L1442.22 435.75L1428.19 435.75Z" fill="#6789ad" stroke="#0a3a6e" stroke-width="1.5"/>
<path d="M1471.09 411.2L1478.11 423.35L1464.08 423.35Z" fill="#6789ad" stroke="#0a3a6e" stroke-width="1.5"/>
<path d="M1506.98 399.93L1514 412.08L1499.97 412.08Z" fill="#6789ad" stroke="#0a3a6e" stroke-width="1.5"/>
<path d="M1542.87 392.27L1549.88 404.42L1535.85 404.42Z" fill="#6789ad" stroke="#0a3a6e" stroke-width="1.5"/>
<path d="M1578.76 387.1L1585.77 399.25L1571.74 399.25Z" fill="#6789ad" stroke="#0a3a6e" stroke-width="1.5"/>
<path d="M1614.64 383.8L1621.66 395.95L1607.63 395.95Z" fill="#6789ad" stroke="#0a3a6e" stroke-width="1.5"/>
<path d="M1650.53 382.12L1657.55 394.27L1643.52 394.27Z" fill="#6789ad" stroke="#0a3a6e" stroke-width="1.5"/>
<path d="M1686.42 381.12L1693.43 393.27L1679.4 393.27Z" fill="#6789ad" stroke="#0a3a6e" stroke-width="1.5"/>
<path d="M1722.31 380.5L1729.32 392.65L1715.29 392.65Z" fill="#6789ad" stroke="#0a3a6e" stroke-width="1.5"/>
<path d="M1758.19 380.31L1765.21 392.46L1751.18 392.46Z" fill="#6789ad" stroke="#0a3a6e" stroke-width="1.5"/>
<polyline points="1148.11,498.21 1184,475.91 1219.88,455.18 1255.77,435.37 1291.66,415.69 1327.54,396.38 1363.43,377.08 1399.32,357.77 1435.21,339.4 1471.09,321.65 1506.98,303.52 1542.87,284.84 1578.76,266.09 1614.64,247.41 1650.53,228.73 1686.42,209.98 1722.31,191.23 1758.19,172.55" fill="none" stroke="#0b5f2f" stroke-width="1.45"/>
<path d="M1148.11 490.11L1155.12 502.26L1141.09 502.26Z" fill="#5f9a78" stroke="#0b5f2f" stroke-width="1.5"/>
<path d="M1184 467.81L1191.01 479.96L1176.98 479.96Z" fill="#5f9a78" stroke="#0b5f2f" stroke-width="1.5"/>
<path d="M1219.88 447.08L1226.9 459.23L1212.87 459.23Z" fill="#5f9a78" stroke="#0b5f2f" stroke-width="1.5"/>
<path d="M1255.77 427.27L1262.79 439.42L1248.76 439.42Z" fill="#5f9a78" stroke="#0b5f2f" stroke-width="1.5"/>
<path d="M1291.66 407.59L1298.67 419.74L1284.64 419.74Z" fill="#5f9a78" stroke="#0b5f2f" stroke-width="1.5"/>
<path d="M1327.54 388.28L1334.56 400.43L1320.53 400.43Z" fill="#5f9a78" stroke="#0b5f2f" stroke-width="1.5"/>
<path d="M1363.43 368.98L1370.45 381.13L1356.42 381.13Z" fill="#5f9a78" stroke="#0b5f2f" stroke-width="1.5"/>
<path d="M1399.32 349.67L1406.33 361.82L1392.3 361.82Z" fill="#5f9a78" stroke="#0b5f2f" stroke-width="1.5"/>
<path d="M1435.21 331.3L1442.22 343.45L1428.19 343.45Z" fill="#5f9a78" stroke="#0b5f2f" stroke-width="1.5"/>
<path d="M1471.09 313.55L1478.11 325.7L1464.08 325.7Z" fill="#5f9a78" stroke="#0b5f2f" stroke-width="1.5"/>
<path d="M1506.98 295.42L1514 307.57L1499.97 307.57Z" fill="#5f9a78" stroke="#0b5f2f" stroke-width="1.5"/>
<path d="M1542.87 276.74L1549.88 288.89L1535.85 288.89Z" fill="#5f9a78" stroke="#0b5f2f" stroke-width="1.5"/>
<path d="M1578.76 257.99L1585.77 270.14L1571.74 270.14Z" fill="#5f9a78" stroke="#0b5f2f" stroke-width="1.5"/>
<path d="M1614.64 239.31L1621.66 251.46L1607.63 251.46Z" fill="#5f9a78" stroke="#0b5f2f" stroke-width="1.5"/>
<path d="M1650.53 220.63L1657.55 232.78L1643.52 232.78Z" fill="#5f9a78" stroke="#0b5f2f" stroke-width="1.5"/>
<path d="M1686.42 201.88L1693.43 214.03L1679.4 214.03Z" fill="#5f9a78" stroke="#0b5f2f" stroke-width="1.5"/>
<path d="M1722.31 183.13L1729.32 195.28L1715.29 195.28Z" fill="#5f9a78" stroke="#0b5f2f" stroke-width="1.5"/>
<path d="M1758.19 164.45L1765.21 176.6L1751.18 176.6Z" fill="#5f9a78" stroke="#0b5f2f" stroke-width="1.5"/>
<polyline points="1148.11,437.18 1184,414.82 1219.88,393.08 1255.77,372.53 1291.66,353.1 1327.54,333.6 1363.43,314.92 1399.32,295.49 1435.21,277.12 1471.09,258.74 1506.98,240.62 1542.87,221.87 1578.76,203.19 1614.64,184.51 1650.53,165.82 1686.42,147.08 1722.31,128.39 1758.19,108.9" fill="none" stroke="#980c1f" stroke-width="1.45"/>
<path d="M1148.11 429.08L1155.12 441.23L1141.09 441.23Z" fill="#c3686f" stroke="#980c1f" stroke-width="1.5"/>
<path d="M1184 406.72L1191.01 418.87L1176.98 418.87Z" fill="#c3686f" stroke="#980c1f" stroke-width="1.5"/>
<path d="M1219.88 384.98L1226.9 397.13L1212.87 397.13Z" fill="#c3686f" stroke="#980c1f" stroke-width="1.5"/>
<path d="M1255.77 364.43L1262.79 376.58L1248.76 376.58Z" fill="#c3686f" stroke="#980c1f" stroke-width="1.5"/>
<path d="M1291.66 345L1298.67 357.15L1284.64 357.15Z" fill="#c3686f" stroke="#980c1f" stroke-width="1.5"/>
<path d="M1327.54 325.5L1334.56 337.65L1320.53 337.65Z" fill="#c3686f" stroke="#980c1f" stroke-width="1.5"/>
<path d="M1363.43 306.82L1370.45 318.97L1356.42 318.97Z" fill="#c3686f" stroke="#980c1f" stroke-width="1.5"/>
<path d="M1399.32 287.39L1406.33 299.54L1392.3 299.54Z" fill="#c3686f" stroke="#980c1f" stroke-width="1.5"/>
<path d="M1435.21 269.02L1442.22 281.17L1428.19 281.17Z" fill="#c3686f" stroke="#980c1f" stroke-width="1.5"/>
<path d="M1471.09 250.64L1478.11 262.79L1464.08 262.79Z" fill="#c3686f" stroke="#980c1f" stroke-width="1.5"/>
<path d="M1506.98 232.52L1514 244.67L1499.97 244.67Z" fill="#c3686f" stroke="#980c1f" stroke-width="1.5"/>
<path d="M1542.87 213.77L1549.88 225.92L1535.85 225.92Z" fill="#c3686f" stroke="#980c1f" stroke-width="1.5"/>
<path d="M1578.76 195.09L1585.77 207.24L1571.74 207.24Z" fill="#c3686f" stroke="#980c1f" stroke-width="1.5"/>
<path d="M1614.64 176.41L1621.66 188.56L1607.63 188.56Z" fill="#c3686f" stroke="#980c1f" stroke-width="1.5"/>
<path d="M1650.53 157.72L1657.55 169.87L1643.52 169.87Z" fill="#c3686f" stroke="#980c1f" stroke-width="1.5"/>
<path d="M1686.42 138.98L1693.43 151.13L1679.4 151.13Z" fill="#c3686f" stroke="#980c1f" stroke-width="1.5"/>
<path d="M1722.31 120.29L1729.32 132.44L1715.29 132.44Z" fill="#c3686f" stroke="#980c1f" stroke-width="1.5"/>
<path d="M1758.19 100.8L1765.21 112.95L1751.18 112.95Z" fill="#c3686f" stroke="#980c1f" stroke-width="1.5"/>
<polyline points="1148.11,382.99 1184,359.39 1219.88,338.09 1255.77,318.28 1291.66,298.79 1327.54,279.36 1363.43,260.3 1399.32,241.62 1435.21,222.87 1471.09,203.44 1506.98,185.56 1542.87,166.88 1578.76,148.13 1614.64,129.45 1650.53,110.77 1686.42,92.08 1722.31,72.96 1758.19,53.84" fill="none" stroke="#d4be64" stroke-width="1.45"/>
<path d="M1148.11 374.89L1155.12 387.04L1141.09 387.04Z" fill="#e1d596" stroke="#d4be64" stroke-width="1.5"/>
<path d="M1184 351.29L1191.01 363.44L1176.98 363.44Z" fill="#e1d596" stroke="#d4be64" stroke-width="1.5"/>
<path d="M1219.88 329.99L1226.9 342.14L1212.87 342.14Z" fill="#e1d596" stroke="#d4be64" stroke-width="1.5"/>
<path d="M1255.77 310.18L1262.79 322.33L1248.76 322.33Z" fill="#e1d596" stroke="#d4be64" stroke-width="1.5"/>
<path d="M1291.66 290.69L1298.67 302.84L1284.64 302.84Z" fill="#e1d596" stroke="#d4be64" stroke-width="1.5"/>
<path d="M1327.54 271.26L1334.56 283.41L1320.53 283.41Z" fill="#e1d596" stroke="#d4be64" stroke-width="1.5"/>
<path d="M1363.43 252.2L1370.45 264.35L1356.42 264.35Z" fill="#e1d596" stroke="#d4be64" stroke-width="1.5"/>
<path d="M1399.32 233.52L1406.33 245.67L1392.3 245.67Z" fill="#e1d596" stroke="#d4be64" stroke-width="1.5"/>
<path d="M1435.21 214.77L1442.22 226.92L1428.19 226.92Z" fill="#e1d596" stroke="#d4be64" stroke-width="1.5"/>
<path d="M1471.09 195.34L1478.11 207.49L1464.08 207.49Z" fill="#e1d596" stroke="#d4be64" stroke-width="1.5"/>
<path d="M1506.98 177.47L1514 189.62L1499.97 189.62Z" fill="#e1d596" stroke="#d4be64" stroke-width="1.5"/>
<path d="M1542.87 158.78L1549.88 170.93L1535.85 170.93Z" fill="#e1d596" stroke="#d4be64" stroke-width="1.5"/>
<path d="M1578.76 140.03L1585.77 152.18L1571.74 152.18Z" fill="#e1d596" stroke="#d4be64" stroke-width="1.5"/>
<path d="M1614.64 121.35L1621.66 133.5L1607.63 133.5Z" fill="#e1d596" stroke="#d4be64" stroke-width="1.5"/>
<path d="M1650.53 102.67L1657.55 114.82L1643.52 114.82Z" fill="#e1d596" stroke="#d4be64" stroke-width="1.5"/>
<path d="M1686.42 83.98L1693.43 96.13L1679.4 96.13Z" fill="#e1d596" stroke="#d4be64" stroke-width="1.5"/>
<path d="M1722.31 64.86L1729.32 77.01L1715.29 77.01Z" fill="#e1d596" stroke="#d4be64" stroke-width="1.5"/>
<path d="M1758.19 45.74L1765.21 57.89L1751.18 57.89Z" fill="#e1d596" stroke="#d4be64" stroke-width="1.5"/>
<defs><linearGradient id="sg" x1="0" y1="0" x2="0" y2="1"><stop offset="0" stop-color="#f7f7f7"/><stop offset="1" stop-color="#c4c4c4"/></linearGradient></defs>
<path d="M1267.7 530.5L1387 530.5L1387 474.7Z" fill="url(#sg)" stroke="#000" stroke-width="1.7"/>
<path d="M1506 103.3L1625 103.3L1506 165Z" fill="url(#sg)" stroke="#000" stroke-width="1.7"/>
<rect x="1087.1" y="0.7" width="732.1" height="631.8" fill="none" stroke="#000" stroke-width="1.7"/>
<rect x="1110.2" y="20.4" width="185.3" height="202.6" fill="#fff" stroke="#000" stroke-width="1.3"/>
<line x1="1123.4" y1="52.4" x2="1194" y2="52.4" stroke="#0a3a6e" stroke-width="1.45"/>
<path d="M1158.7 44.3L1165.71 56.45L1151.69 56.45Z" fill="#6789ad" stroke="#0a3a6e" stroke-width="1.5"/>
<line x1="1123.4" y1="98.85" x2="1194" y2="98.85" stroke="#0b5f2f" stroke-width="1.45"/>
<path d="M1158.7 90.75L1165.71 102.9L1151.69 102.9Z" fill="#5f9a78" stroke="#0b5f2f" stroke-width="1.5"/>
<line x1="1123.4" y1="145.3" x2="1194" y2="145.3" stroke="#980c1f" stroke-width="1.45"/>
<path d="M1158.7 137.2L1165.71 149.35L1151.69 149.35Z" fill="#c3686f" stroke="#980c1f" stroke-width="1.5"/>
<line x1="1123.4" y1="191.75" x2="1194" y2="191.75" stroke="#d4be64" stroke-width="1.45"/>
<path d="M1158.7 183.65L1165.71 195.8L1151.69 195.8Z" fill="#e1d596" stroke="#d4be64" stroke-width="1.5"/>
<text transform="matrix(0.9667 0 0 1.0545 113.91 674.70)" style="font-family:Liberation Serif,serif;font-size:34px">10</text>
<text transform="matrix(0.7364 0 0 0.7364 147.57 662.90)" style="font-family:Liberation Serif,serif;font-size:34px">0</text>
<text transform="matrix(0.9667 0 0 1.0545 233.12 674.70)" style="font-family:Liberation Serif,serif;font-size:34px">10</text>
<text transform="matrix(0.7364 0 0 0.7364 265.71 662.90)" style="font-family:Liberation Serif,serif;font-size:34px">1</text>
<text transform="matrix(0.9667 0 0 1.0545 352.34 674.70)" style="font-family:Liberation Serif,serif;font-size:34px">10</text>
<text transform="matrix(0.7364 0 0 0.7364 386.00 662.90)" style="font-family:Liberation Serif,serif;font-size:34px">2</text>
<text transform="matrix(0.9667 0 0 1.0545 471.55 674.70)" style="font-family:Liberation Serif,serif;font-size:34px">10</text>
<text transform="matrix(0.7364 0 0 0.7364 504.48 662.90)" style="font-family:Liberation Serif,serif;font-size:34px">3</text>
<text transform="matrix(0.9667 0 0 1.0545 590.77 674.70)" style="font-family:Liberation Serif,serif;font-size:34px">10</text>
<text transform="matrix(0.7364 0 0 0.7364 624.43 662.90)" style="font-family:Liberation Serif,serif;font-size:34px">4</text>
<text transform="matrix(0.9667 0 0 1.0545 709.98 674.70)" style="font-family:Liberation Serif,serif;font-size:34px">10</text>
<text transform="matrix(0.7364 0 0 0.7364 742.91 662.90)" style="font-family:Liberation Serif,serif;font-size:34px">5</text>
<text transform="matrix(0.9667 0 0 1.0545 1124.01 674.70)" style="font-family:Liberation Serif,serif;font-size:34px">10</text>
<text transform="matrix(0.7364 0 0 0.7364 1157.67 662.90)" style="font-family:Liberation Serif,serif;font-size:34px">0</text>
<text transform="matrix(0.9667 0 0 1.0545 1243.22 674.70)" style="font-family:Liberation Serif,serif;font-size:34px">10</text>
<text transform="matrix(0.7364 0 0 0.7364 1275.81 662.90)" style="font-family:Liberation Serif,serif;font-size:34px">1</text>
<text transform="matrix(0.9667 0 0 1.0545 1362.44 674.70)" style="font-family:Liberation Serif,serif;font-size:34px">10</text>
<text transform="matrix(0.7364 0 0 0.7364 1396.10 662.90)" style="font-family:Liberation Serif,serif;font-size:34px">2</text>
<text transform="matrix(0.9667 0 0 1.0545 1481.65 674.70)" style="font-family:Liberation Serif,serif;font-size:34px">10</text>
<text transform="matrix(0.7364 0 0 0.7364 1514.58 662.90)" style="font-family:Liberation Serif,serif;font-size:34px">3</text>
<text transform="matrix(0.9667 0 0 1.0545 1600.87 674.70)" style="font-family:Liberation Serif,serif;font-size:34px">10</text>
<text transform="matrix(0.7364 0 0 0.7364 1634.53 662.90)" style="font-family:Liberation Serif,serif;font-size:34px">4</text>
<text transform="matrix(0.9667 0 0 1.0545 1720.08 674.70)" style="font-family:Liberation Serif,serif;font-size:34px">10</text>
<text transform="matrix(0.7364 0 0 0.7364 1753.01 662.90)" style="font-family:Liberation Serif,serif;font-size:34px">5</text>
<text transform="matrix(0.9333 0 0 1.0477 46.97 591.70)" style="font-family:Liberation Serif,serif;font-size:34px">0</text>
<text transform="matrix(0.9925 0 0 1.0477 20.91 486.40)" style="font-family:Liberation Serif,serif;font-size:34px">0.2</text>
<text transform="matrix(0.9683 0 0 1.0477 20.93 381.10)" style="font-family:Liberation Serif,serif;font-size:34px">0.4</text>
<text transform="matrix(0.9683 0 0 1.0477 20.93 275.80)" style="font-family:Liberation Serif,serif;font-size:34px">0.6</text>
<text transform="matrix(0.9925 0 0 1.0477 20.91 170.50)" style="font-family:Liberation Serif,serif;font-size:34px">0.8</text>
<text transform="matrix(1.0833 0 0 1.0477 44.65 65.20)" style="font-family:Liberation Serif,serif;font-size:34px">1</text>
<text transform="matrix(0.6714 0 0 0.7159 1059.46 585.20)" style="font-family:Liberation Serif,serif;font-size:34px">7</text>
<text transform="matrix(0.6267 0 0 0.7159 1060.17 460.47)" style="font-family:Liberation Serif,serif;font-size:34px">9</text>
<text transform="matrix(0.7036 0 0 0.7159 1048.09 335.75)" style="font-family:Liberation Serif,serif;font-size:34px">11</text>
<text transform="matrix(0.6567 0 0 0.7159 1048.23 211.03)" style="font-family:Liberation Serif,serif;font-size:34px">13</text>
<text transform="matrix(0.6567 0 0 0.7159 1048.23 86.30)" style="font-family:Liberation Serif,serif;font-size:34px">15</text>
<text transform="matrix(1.0786 0 0 1.0074 355.82 722.45)" style="font-family:Liberation Serif,serif;font-size:34px">parameter <tspan font-style="italic">a</tspan></text>
<text transform="matrix(1.0786 0 0 1.0074 1365.92 722.45)" style="font-family:Liberation Serif,serif;font-size:34px">parameter <tspan font-style="italic">a</tspan></text>
<text transform="matrix(1.0933 0 0 1.0083 668.91 377.20)" style="font-family:Liberation Serif,serif;font-size:34px;font-style:italic">k</text>
<text transform="matrix(0.8250 0 0 0.8667 696.25 376.07)" style="font-family:Liberation Serif,serif;font-size:34px">=</text>
<text transform="matrix(0.9214 0 0 1.0455 722.98 377.20)" style="font-family:Liberation Serif,serif;font-size:34px">2</text>
<text transform="matrix(1.0933 0 0 1.0083 668.91 423.80)" style="font-family:Liberation Serif,serif;font-size:34px;font-style:italic">k</text>
<text transform="matrix(0.8250 0 0 0.8667 696.25 422.67)" style="font-family:Liberation Serif,serif;font-size:34px">=</text>
<text transform="matrix(0.9214 0 0 1.0455 722.06 423.80)" style="font-family:Liberation Serif,serif;font-size:34px">3</text>
<text transform="matrix(1.0933 0 0 1.0083 668.91 470.40)" style="font-family:Liberation Serif,serif;font-size:34px;font-style:italic">k</text>
<text transform="matrix(0.8250 0 0 0.8667 696.25 469.27)" style="font-family:Liberation Serif,serif;font-size:34px">=</text>
<text transform="matrix(0.8062 0 0 1.0455 723.09 470.40)" style="font-family:Liberation Serif,serif;font-size:34px">4</text>
<text transform="matrix(1.0933 0 0 1.0083 668.91 517.00)" style="font-family:Liberation Serif,serif;font-size:34px;font-style:italic">k</text>
<text transform="matrix(0.8250 0 0 0.8667 696.25 515.87)" style="font-family:Liberation Serif,serif;font-size:34px">=</text>
<text transform="matrix(0.9214 0 0 1.0455 722.06 517.00)" style="font-family:Liberation Serif,serif;font-size:34px">5</text>
<text transform="matrix(1.0867 0 0 1.0125 1204.61 61.70)" style="font-family:Liberation Serif,serif;font-size:34px;font-style:italic">k</text>
<text transform="matrix(0.7812 0 0 0.8667 1232.14 60.47)" style="font-family:Liberation Serif,serif;font-size:34px">=</text>
<text transform="matrix(0.9500 0 0 1.0455 1258.15 61.70)" style="font-family:Liberation Serif,serif;font-size:34px">2</text>
<text transform="matrix(1.0867 0 0 1.0125 1204.61 108.15)" style="font-family:Liberation Serif,serif;font-size:34px;font-style:italic">k</text>
<text transform="matrix(0.7812 0 0 0.8667 1232.14 106.92)" style="font-family:Liberation Serif,serif;font-size:34px">=</text>
<text transform="matrix(0.9500 0 0 1.0455 1257.20 108.15)" style="font-family:Liberation Serif,serif;font-size:34px">3</text>
<text transform="matrix(1.0867 0 0 1.0125 1204.61 154.60)" style="font-family:Liberation Serif,serif;font-size:34px;font-style:italic">k</text>
<text transform="matrix(0.7812 0 0 0.8667 1232.14 153.37)" style="font-family:Liberation Serif,serif;font-size:34px">=</text>
<text transform="matrix(0.8313 0 0 1.0455 1258.27 154.60)" style="font-family:Liberation Serif,serif;font-size:34px">4</text>
<text transform="matrix(1.0867 0 0 1.0125 1204.61 201.05)" style="font-family:Liberation Serif,serif;font-size:34px;font-style:italic">k</text>
<text transform="matrix(0.7812 0 0 0.8667 1232.14 199.82)" style="font-family:Liberation Serif,serif;font-size:34px">=</text>
<text transform="matrix(0.9500 0 0 1.0455 1257.20 201.05)" style="font-family:Liberation Serif,serif;font-size:34px">5</text>
<text transform="matrix(1.0083 0 0 1.0500 639.88 590.10)" style="font-family:Liberation Serif,serif;font-size:34px">1</text>
<text transform="matrix(0.9438 0 0 1.0000 664.11 589.60)" style="font-family:Liberation Serif,serif;font-size:34px">−</text>
<text transform="matrix(0.9333 0 0 1.0500 690.20 590.10)" style="font-family:Liberation Serif,serif;font-size:34px">1</text>
<text transform="matrix(0.9444 0 0 1.3636 707.50 596.00)" style="font-family:Liberation Serif,serif;font-size:34px">/</text>
<text transform="matrix(1.0133 0 0 1.1000 747.99 590.60)" style="font-family:Liberation Serif,serif;font-size:34px"><tspan font-style="italic">a</tspan></text>
<text transform="matrix(1.0667 0 0 1.0500 1317.40 567.30)" style="font-family:Liberation Serif,serif;font-size:34px">1</text>
<text transform="matrix(0.9925 0 0 1.0182 1400.61 513.90)" style="font-family:Liberation Serif,serif;font-size:34px">0.9</text>
<text transform="matrix(0.9750 0 0 1.0409 1556.88 89.10)" style="font-family:Liberation Serif,serif;font-size:34px">1</text>
<text transform="matrix(0.9917 0 0 1.0182 1475.03 145.70)" style="font-family:Liberation Serif,serif;font-size:34px">1</text>
<text transform="matrix(0.9778 0 0 0.9233 -0.08 789.14)" style="font-family:Liberation Serif,serif;font-size:34px;font-weight:bold">(</text>
<text transform="matrix(0.9062 0 0 1.0875 11.39 791.90)" style="font-family:Liberation Serif,serif;font-size:34px;font-weight:bold">a</text>
<text transform="matrix(1.0778 0 0 0.9233 27.92 789.14)" style="font-family:Liberation Serif,serif;font-size:34px;font-weight:bold">)</text>
<text transform="matrix(0.9929 0 0 1.0065 47.21 792.05)" style="font-family:Liberation Serif,serif;font-size:34px">Stability</text>
<text transform="matrix(1.0437 0 0 1.0450 171.36 791.90)" style="font-family:Liberation Serif,serif;font-size:34px">constant</text>
<text transform="matrix(0.9600 0 0 1.0348 298.06 791.70)" style="font-family:Liberation Sans,DejaVu Sans,sans-serif;font-size:32px;font-style:italic">λ</text>
<text transform="matrix(0.7136 0 0 0.7136 310.93 797.70)" style="font-family:Liberation Sans,DejaVu Sans,sans-serif;font-size:32px">1</text>
<text transform="matrix(0.8286 0 0 0.8286 321.87 797.49)" style="font-family:Liberation Sans,DejaVu Sans,sans-serif;font-size:32px">,</text>
<text transform="matrix(0.7417 0 0 0.7417 329.94 797.26)" style="font-family:Liberation Serif,serif;font-size:34px;font-style:italic">ℓ</text>
<text transform="matrix(0.8625 0 0 0.9533 355.14 790.56)" style="font-family:Liberation Sans,DejaVu Sans,sans-serif;font-size:32px">&gt;</text>
<text transform="matrix(1.0136 0 0 1.0136 378.43 791.80)" style="font-family:Liberation Sans,DejaVu Sans,sans-serif;font-size:32px">1</text>
<text transform="matrix(0.9500 0 0 1.0000 402.85 792.60)" style="font-family:Liberation Sans,DejaVu Sans,sans-serif;font-size:32px">−</text>
<text transform="matrix(0.9667 0 0 1.0438 429.43 792.20)" style="font-family:Liberation Serif,serif;font-size:34px;font-style:italic">a</text>
<text transform="matrix(0.6541 0 0 0.6304 446.65 779.80)" style="font-family:Liberation Sans,DejaVu Sans,sans-serif;font-size:32px">−1/2</text>
<text transform="matrix(0.9667 0 0 0.9233 994.33 789.14)" style="font-family:Liberation Serif,serif;font-size:34px;font-weight:bold">(</text>
<text transform="matrix(0.9778 0 0 1.0000 1005.80 791.90)" style="font-family:Liberation Serif,serif;font-size:34px;font-weight:bold">b</text>
<text transform="matrix(0.9778 0 0 0.9233 1025.02 789.14)" style="font-family:Liberation Serif,serif;font-size:34px;font-weight:bold">)</text>
<text transform="matrix(1.0007 0 0 0.9875 1044.40 791.90)" style="font-family:Liberation Serif,serif;font-size:34px">Condition</text>
<text transform="matrix(1.0495 0 0 0.9875 1188.15 791.90)" style="font-family:Liberation Serif,serif;font-size:34px">number</text>
<text transform="matrix(0.9439 0 0 1.0391 1308.96 791.80)" style="font-family:Liberation Sans,DejaVu Sans,sans-serif;font-size:32px">cond</text>
<text transform="matrix(0.5636 0 0 0.5636 1372.98 796.10)" style="font-family:Liberation Sans,DejaVu Sans,sans-serif;font-size:32px">1</text>
<text transform="matrix(0.7375 0 0 0.9067 1385.53 790.25)" style="font-family:Liberation Sans,DejaVu Sans,sans-serif;font-size:32px">(</text>
<text transform="matrix(0.7263 0 0 0.9955 1396.67 791.80)" style="font-family:Liberation Sans,DejaVu Sans,sans-serif;font-size:32px;font-style:italic">B</text>
<text transform="matrix(0.7375 0 0 0.9067 1413.23 790.25)" style="font-family:Liberation Sans,DejaVu Sans,sans-serif;font-size:32px">(</text>
<text transform="matrix(0.7655 0 0 0.8731 1420.30 792.10)" style="font-family:DejaVu Math TeX Gyre,DejaVu Sans,serif;font-size:34px">𝒯</text>
<text transform="matrix(0.6846 0 0 0.5417 1444.62 797.46)" style="font-family:Liberation Serif,serif;font-size:34px;font-style:italic">ℓ</text>
<text transform="matrix(0.8105 0 0 0.9067 1459.10 790.25)" style="font-family:Liberation Sans,DejaVu Sans,sans-serif;font-size:32px">))</text>
<text transform="matrix(0.9800 0 0 1.0432 1025.96 596.95)" style="font-family:Liberation Serif,serif;font-size:34px">10</text>
<text transform="matrix(0.9800 0 0 1.0432 1025.96 472.22)" style="font-family:Liberation Serif,serif;font-size:34px">10</text>
<text transform="matrix(0.9800 0 0 1.0432 1015.36 347.50)" style="font-family:Liberation Serif,serif;font-size:34px">10</text>
<text transform="matrix(0.9800 0 0 1.0432 1015.36 222.78)" style="font-family:Liberation Serif,serif;font-size:34px">10</text>
<text transform="matrix(0.9800 0 0 1.0432 1015.36 98.05)" style="font-family:Liberation Serif,serif;font-size:34px">10</text>
</svg></body></html>
